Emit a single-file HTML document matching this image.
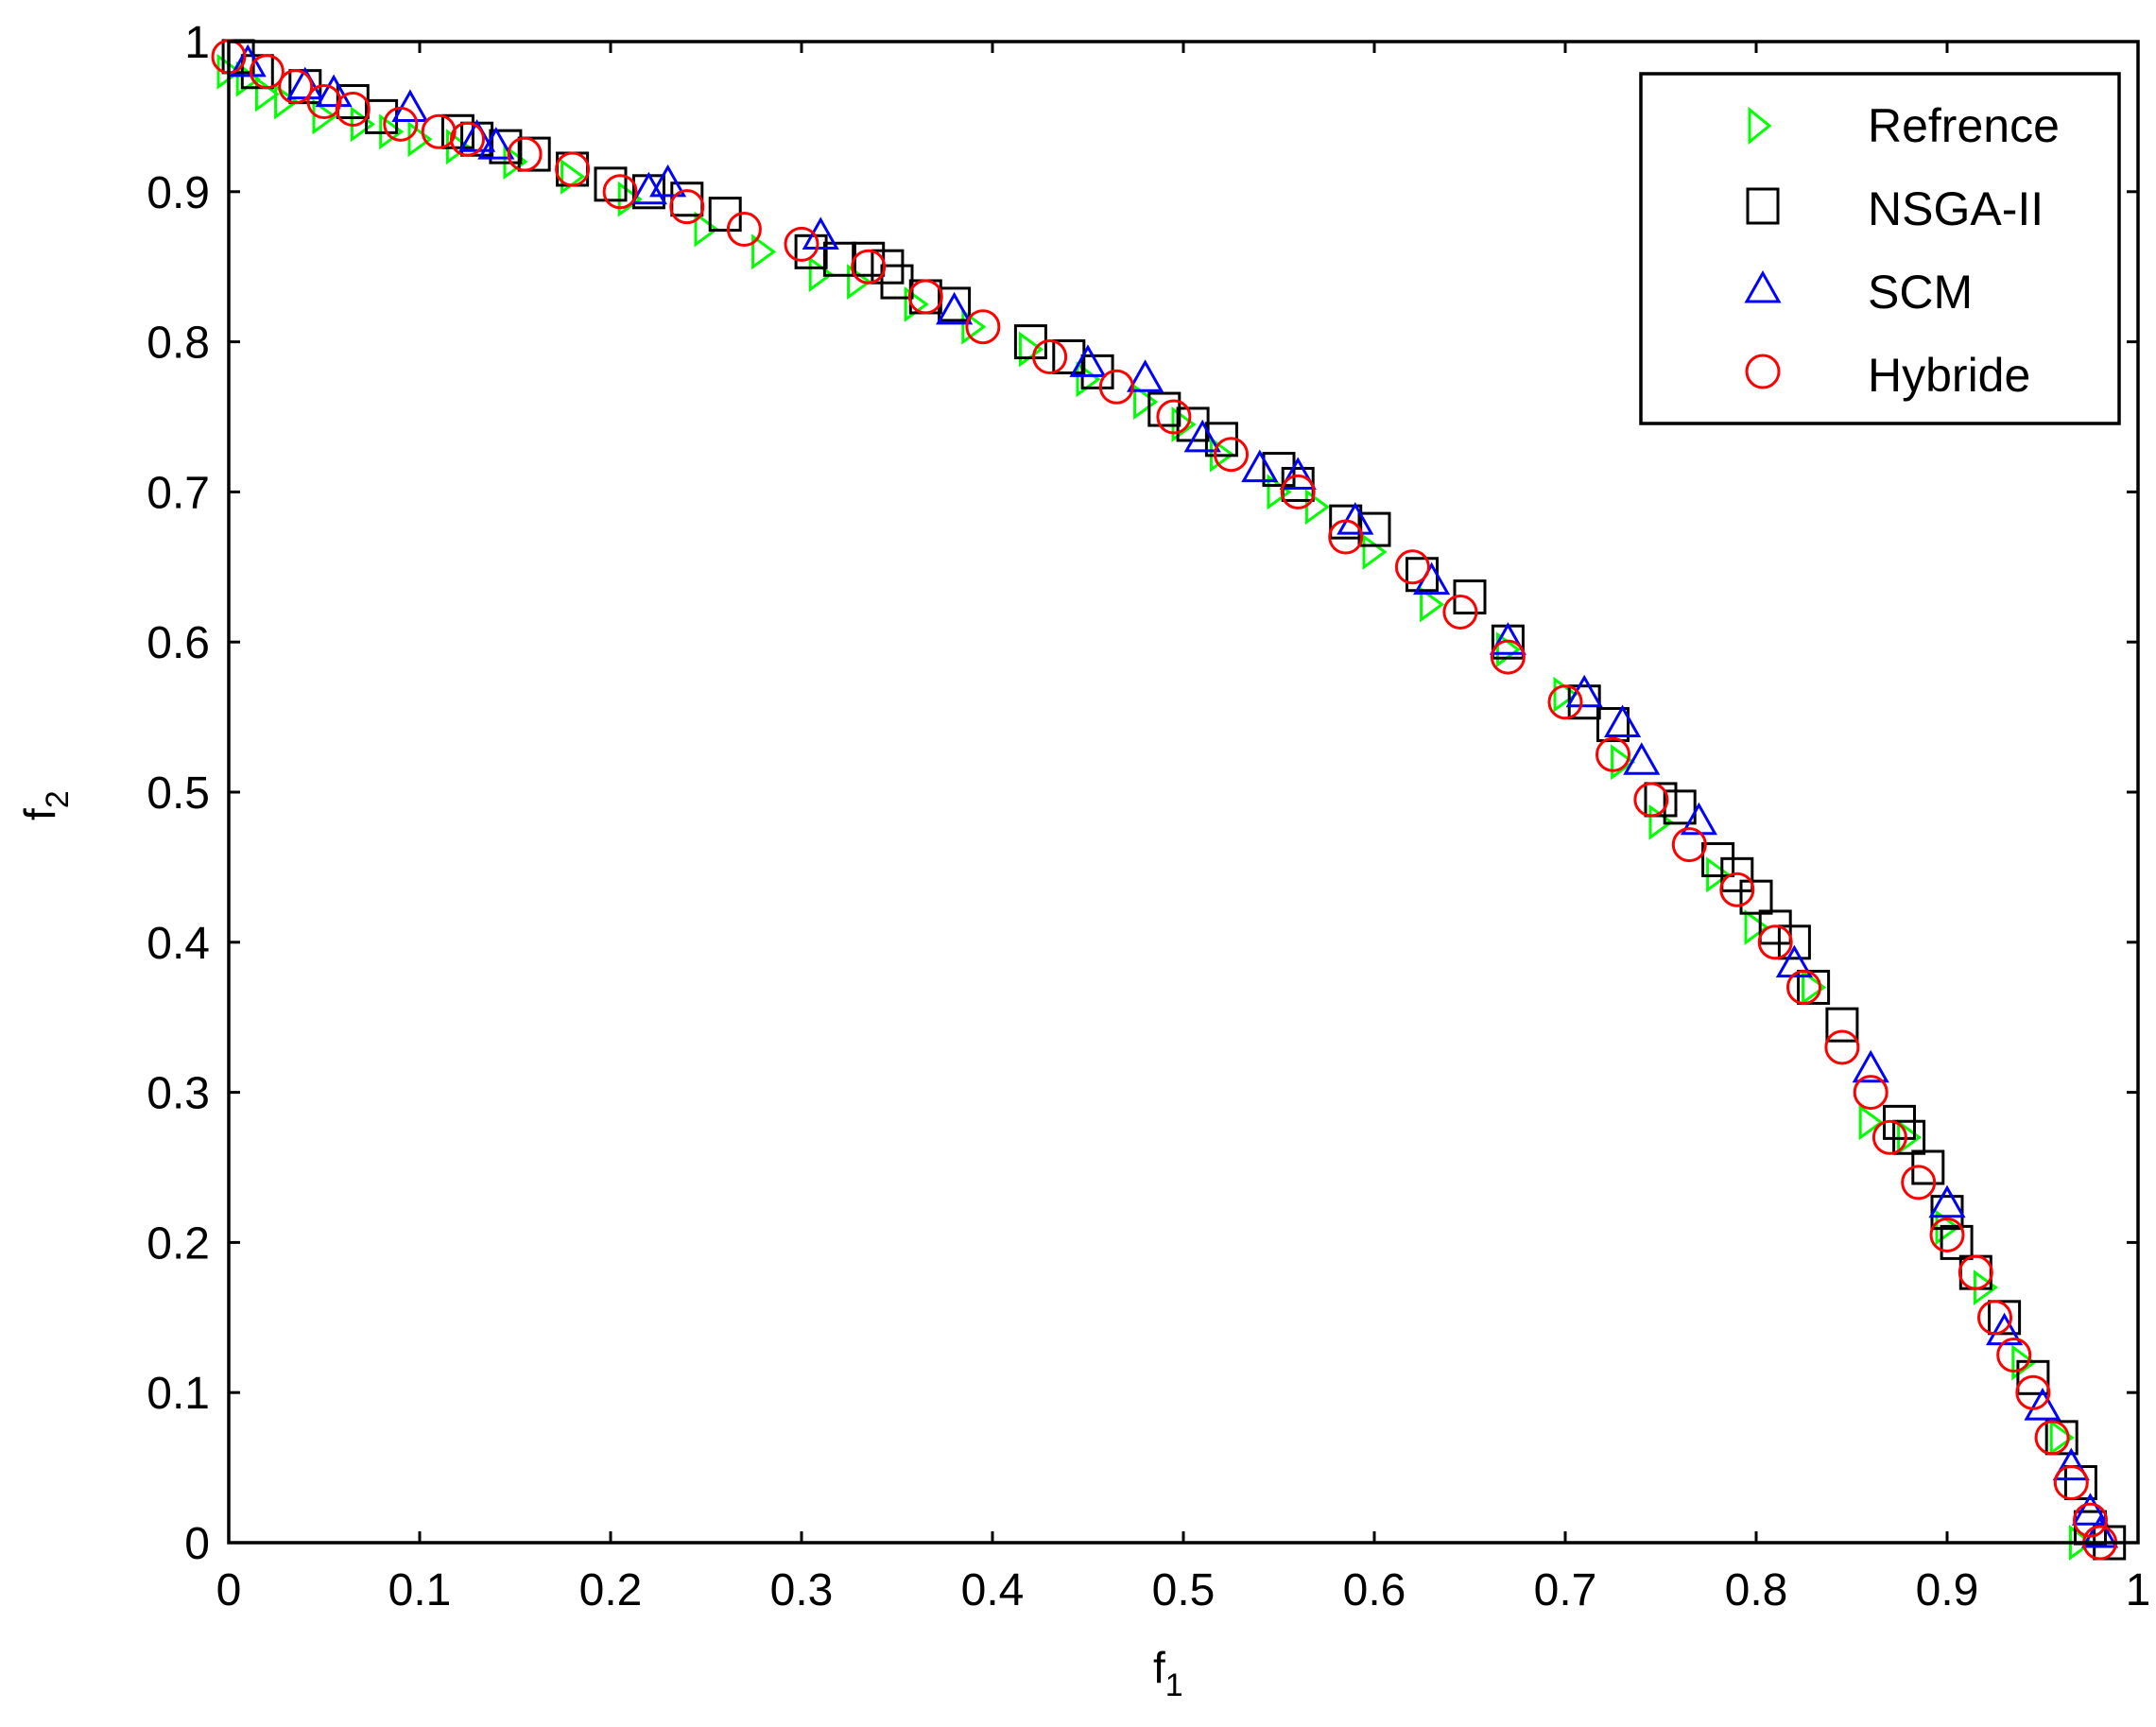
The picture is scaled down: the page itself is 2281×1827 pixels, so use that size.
<!DOCTYPE html>
<html><head><meta charset="utf-8"><style>
html,body{margin:0;padding:0;background:#fff;}
svg{display:block;font-family:"Liberation Sans",sans-serif;}
</style></head><body>
<svg id="chart" width="2281" height="1827" viewBox="0 0 2281 1827" xmlns="http://www.w3.org/2000/svg">
<rect x="0" y="0" width="2281" height="1827" fill="#fff"/>
<g id="ticks"></g>
<g id="marks"></g>
<rect x="242" y="44" width="2020" height="1588" fill="none" stroke="#000" stroke-width="3.5"/>
<text x="1220" y="1780" font-size="46">f<tspan font-size="34" dy="14">1</tspan></text>
<text transform="translate(58,868) rotate(-90)" font-size="46">f<tspan font-size="34" dy="14">2</tspan></text>
<g>
<rect x="1736" y="78" width="506" height="370" fill="#fff" stroke="#000" stroke-width="3.5"/>
<polygon points="1851,116 1851,150 1872,133" fill="none" stroke="#00ff00" stroke-width="3"/>
<text x="1976" y="150" font-size="50">Refrence</text>
<rect x="1849" y="200" width="32" height="36" fill="none" stroke="#000" stroke-width="3"/>
<text x="1976" y="238" font-size="50">NSGA-II</text>
<polygon points="1865,289 1848,319 1882,319" fill="none" stroke="#0000ff" stroke-width="3"/>
<text x="1976" y="326" font-size="50">SCM</text>
<circle cx="1865" cy="393" r="17" fill="none" stroke="#ff0000" stroke-width="3"/>
<text x="1976" y="414" font-size="50">Hybride</text>
</g>
</svg>
<script>
const xTicks=[0,0.1,0.2,0.3,0.4,0.5,0.6,0.7,0.8,0.9,1];
const xTickLabels=["0","0.1","0.2","0.3","0.4","0.5","0.6","0.7","0.8","0.9","1"];
const yTicks=[0,0.1,0.2,0.3,0.4,0.5,0.6,0.7,0.8,0.9,1];
const yTickLabels=["0","0.1","0.2","0.3","0.4","0.5","0.6","0.7","0.8","0.9","1"];
const refX=[0,0.01,0.02,0.03,0.05,0.07,0.085,0.1,0.12,0.15,0.18,0.21,0.25,0.28,0.31,0.33,0.36,0.39,0.42,0.45,0.48,0.5,0.52,0.55,0.57,0.6,0.63,0.67,0.7,0.73,0.75,0.78,0.8,0.83,0.86,0.88,0.9,0.92,0.94,0.96,0.97];
const refY=[0.98,0.975,0.965,0.96,0.95,0.945,0.94,0.935,0.93,0.92,0.91,0.895,0.875,0.86,0.845,0.84,0.825,0.81,0.795,0.775,0.76,0.745,0.725,0.7,0.69,0.66,0.625,0.595,0.565,0.52,0.48,0.445,0.41,0.37,0.28,0.27,0.21,0.17,0.12,0.07,0.0];
const nsgaX=[0.005,0.015,0.04,0.065,0.08,0.12,0.13,0.145,0.16,0.18,0.2,0.22,0.24,0.26,0.305,0.32,0.335,0.345,0.35,0.365,0.38,0.42,0.44,0.455,0.49,0.505,0.52,0.55,0.56,0.585,0.6,0.625,0.65,0.67,0.71,0.725,0.75,0.76,0.78,0.79,0.8,0.81,0.82,0.83,0.845,0.875,0.88,0.89,0.9,0.905,0.915,0.93,0.945,0.96,0.97,0.975,0.985];
const nsgaY=[0.99,0.98,0.97,0.96,0.95,0.94,0.935,0.93,0.925,0.915,0.905,0.9,0.895,0.885,0.86,0.855,0.855,0.85,0.84,0.83,0.825,0.8,0.79,0.78,0.755,0.745,0.735,0.715,0.705,0.68,0.675,0.645,0.63,0.6,0.56,0.545,0.495,0.49,0.455,0.445,0.43,0.41,0.4,0.37,0.345,0.28,0.27,0.25,0.22,0.2,0.18,0.15,0.11,0.07,0.04,0.01,0.0];
const scmX=[0.01,0.04,0.055,0.095,0.13,0.14,0.22,0.23,0.31,0.38,0.45,0.48,0.51,0.54,0.56,0.59,0.63,0.67,0.71,0.73,0.74,0.77,0.82,0.86,0.9,0.93,0.95,0.965,0.975,0.98];
const scmY=[0.985,0.97,0.965,0.955,0.935,0.93,0.9,0.905,0.87,0.82,0.785,0.775,0.735,0.715,0.71,0.68,0.64,0.6,0.565,0.545,0.52,0.48,0.385,0.315,0.225,0.14,0.09,0.05,0.02,0.005];
const hybX=[0.0,0.02,0.035,0.05,0.065,0.09,0.11,0.125,0.155,0.18,0.205,0.24,0.27,0.3,0.335,0.365,0.395,0.43,0.465,0.495,0.525,0.56,0.585,0.62,0.645,0.67,0.7,0.725,0.745,0.765,0.79,0.81,0.825,0.845,0.86,0.87,0.885,0.9,0.915,0.925,0.935,0.945,0.955,0.965,0.975,0.98];
const hybY=[0.99,0.98,0.97,0.96,0.955,0.945,0.94,0.935,0.925,0.915,0.9,0.89,0.875,0.865,0.85,0.83,0.81,0.79,0.77,0.75,0.725,0.7,0.67,0.65,0.62,0.59,0.56,0.525,0.495,0.465,0.435,0.4,0.37,0.33,0.3,0.27,0.24,0.205,0.18,0.15,0.125,0.1,0.07,0.04,0.015,0.0];

const L=242,R=2262,T=44,B=1632;
const sx=v=>L+v*(R-L);
const sy=v=>B-v*(B-T);
const NS="http://www.w3.org/2000/svg";
const tg=document.getElementById('ticks');
const mg=document.getElementById('marks');
function mk(tag,attrs,parent){const e=document.createElementNS(NS,tag);for(const k in attrs)e.setAttribute(k,attrs[k]);parent.appendChild(e);return e;}

xTicks.forEach((v,i)=>{
  const x=sx(v);
  const t1=mk('line',{x1:x,y1:B,x2:x,y2:B-12,stroke:'#000','stroke-width':3},tg);
  
  
  mk('line',{x1:x,y1:T,x2:x,y2:T+12,stroke:'#000','stroke-width':3},tg);
  const lb=mk('text',{x:x,y:B+66,'font-size':48,'text-anchor':'middle'},tg);
  lb.textContent=xTickLabels[i];
  
  
});
yTicks.forEach((v,i)=>{
  const y=sy(v);
  const t1=mk('line',{x1:L,y1:y,x2:L+12,y2:y,stroke:'#000','stroke-width':3},tg);
  
  
  mk('line',{x1:R,y1:y,x2:R-12,y2:y,stroke:'#000','stroke-width':3},tg);
  const lb=mk('text',{x:L-20,y:y+17,'font-size':48,'text-anchor':'end'},tg);
  lb.textContent=yTickLabels[i];
  
  
});

refX.forEach((v,i)=>{
  const x=sx(v),y=sy(refY[i]);
  const p=mk('polygon',{points:`${x-11},${y-16} ${x-11},${y+16} ${x+11},${y}`,fill:'none',stroke:'#00ff00','stroke-width':3},mg);
  
  
});
nsgaX.forEach((v,i)=>{
  const x=sx(v),y=sy(nsgaY[i]);
  const p=mk('rect',{x:x-16,y:y-17,width:32,height:34,fill:'none',stroke:'#000','stroke-width':3},mg);
  
  
});
scmX.forEach((v,i)=>{
  const x=sx(v),y=sy(scmY[i]);
  const p=mk('polygon',{points:`${x},${y-18} ${x-17},${y+12} ${x+17},${y+12}`,fill:'none',stroke:'#0000ff','stroke-width':3},mg);
  
  
});
hybX.forEach((v,i)=>{
  const x=sx(v),y=sy(hybY[i]);
  const p=mk('circle',{cx:x,cy:y,r:17,fill:'none',stroke:'#ff0000','stroke-width':3},mg);
  
  
});
</script>
</body></html>
